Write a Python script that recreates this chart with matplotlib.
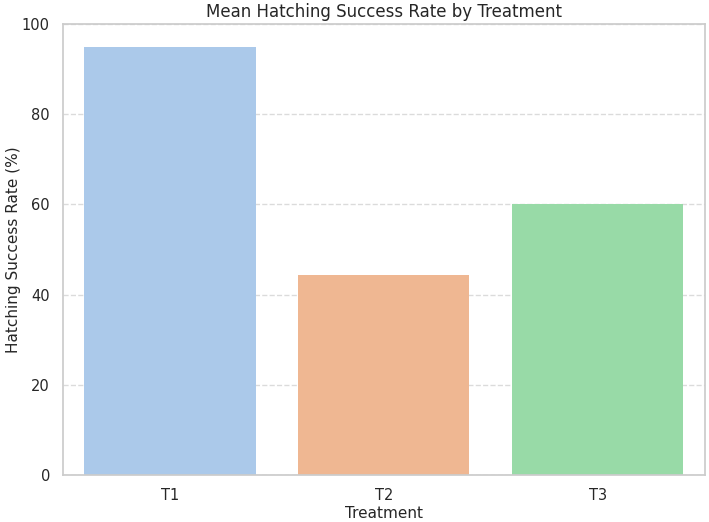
import matplotlib
matplotlib.use("Agg")
import matplotlib.pyplot as plt
import seaborn as sns
import pandas as pd

treatments = ["T1", "T2", "T3"]
hatch_rate = [95.0, 44.4, 60.1]

sns.set_theme(style="whitegrid")
plt.rcParams['font.family'] = ['DejaVu Sans']

df = pd.DataFrame({"Treatment": treatments, "Rate": hatch_rate})

fig, ax = plt.subplots(figsize=(7.09, 5.22), dpi=100)
sns.barplot(data=df, x="Treatment", y="Rate", hue="Treatment",
            palette="pastel", legend=False, linewidth=0, ax=ax)

ax.set_ylim(0, 100)
ax.set_title("Mean Hatching Success Rate by Treatment", fontsize=12, pad=5)
ax.set_xlabel("Treatment", fontsize=11, labelpad=2)
ax.set_ylabel("Hatching Success Rate (%)", fontsize=11, labelpad=1)
ax.tick_params(labelsize=10.5)

# dashed horizontal grid only
ax.grid(False)
ax.yaxis.grid(True, linestyle="--", alpha=0.7)
for s in ax.spines.values():
    s.set_color("#cccccc")

plt.subplots_adjust(left=0.089, right=0.994, top=0.954, bottom=0.09)
plt.savefig("out.png", dpi=100)
